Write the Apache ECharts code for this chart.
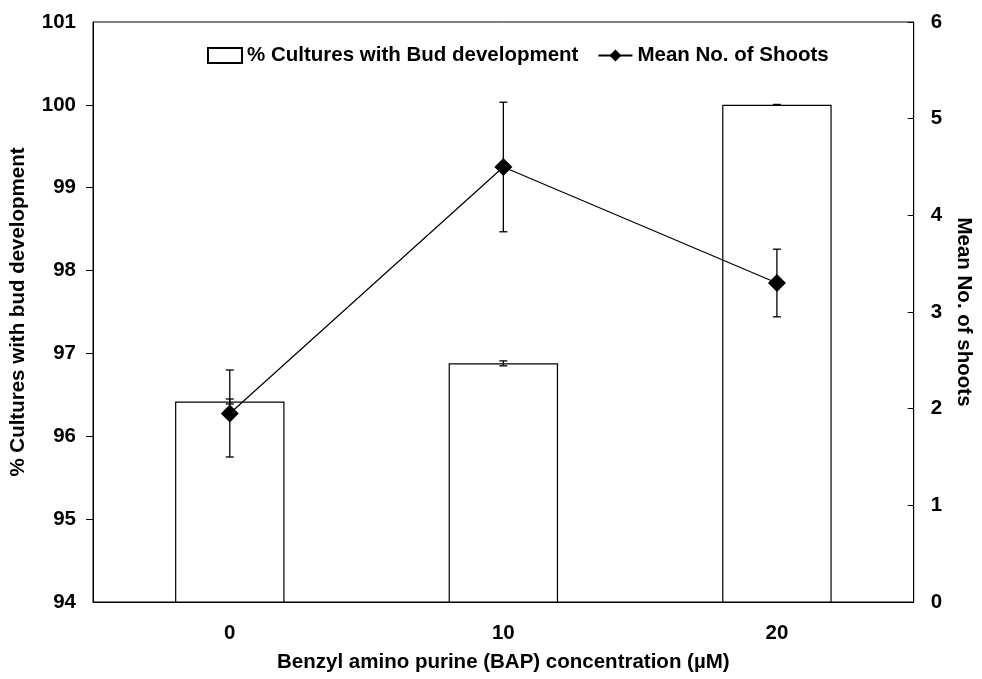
<!DOCTYPE html>
<html>
<head>
<meta charset="utf-8">
<script src="https://cdn.jsdelivr.net/npm/echarts@6/dist/echarts.min.js"></script>
<style>
  html, body { margin: 0; padding: 0; background: #fff; }
  #chart { width: 982px; height: 679px; }
</style>
</head>
<body>
<div id="chart"></div>
<script>
// BAP concentration (µM)
var categories = ['0', '10', '20'];
// % cultures with bud development (left axis)
var budPct = [96.42, 96.88, 100];
var budErr = [0.03, 0.03, 0.005];
// mean no. of shoots (right axis)
var shoots = [1.95, 4.5, 3.3];
var shootsErr = [0.45, 0.67, 0.35];
// left axis ticks (none drawn at the ends)
var leftTicks = [95, 96, 97, 98, 99, 100];

var FONT = '"Liberation Sans", Arial, sans-serif';
var FS = 20.5;

function errData(vals, errs) {
  return vals.map(function (v, i) { return [i, v - errs[i], v + errs[i]]; });
}

// 误差线
function renderErr(params, api) {
  var lo = api.coord([api.value(0), api.value(1)]);
  var hi = api.coord([api.value(0), api.value(2)]);
  var w = 4;
  var style = { stroke: '#000', lineWidth: 1.3 };
  return {
    type: 'group',
    children: [
      { type: 'line', shape: { x1: lo[0], y1: lo[1], x2: hi[0], y2: hi[1] }, style: style },
      { type: 'line', shape: { x1: lo[0] - w, y1: lo[1], x2: lo[0] + w, y2: lo[1] }, style: style },
      { type: 'line', shape: { x1: hi[0] - w, y1: hi[1], x2: hi[0] + w, y2: hi[1] }, style: style }
    ]
  };
}

var labelText = { fontFamily: FONT, fontWeight: 'bold', fontSize: FS, color: '#000' };

var myChart = echarts.init(document.getElementById('chart'));
myChart.setOption({
  animation: false,
  textStyle: { fontFamily: FONT },
  grid: {
    left: 92, right: 56, top: 22, bottom: 77,
    show: true, borderColor: '#000', borderWidth: 1
  },
  legend: {
    top: 40,
    left: 202,
    itemGap: 19,
    itemWidth: 34,
    itemHeight: 15,
    textStyle: labelText,
    data: [
      { name: '% Cultures with Bud development', icon: 'rect' },
      { name: 'Mean No. of Shoots' }
    ]
  },
  xAxis: {
    type: 'category',
    data: categories,
    name: 'Benzyl amino purine (BAP) concentration (µM)',
    nameLocation: 'middle',
    nameGap: 50,
    nameTextStyle: labelText,
    axisLine: { lineStyle: { color: '#000', width: 1 } },
    axisTick: { inside: true, length: 6, lineStyle: { color: '#000' } },
    axisLabel: Object.assign({ margin: 21 }, labelText)
  },
  yAxis: [
    {
      type: 'value',
      min: 94, max: 101, interval: 1,
      name: '% Cultures with bud development',
      nameLocation: 'middle',
      nameRotate: 90,
      nameGap: 64,
      nameTextStyle: labelText,
      splitLine: { show: false },
      axisLine: { show: true, lineStyle: { color: '#000' } },
      axisTick: { show: true, length: 7, customValues: leftTicks, lineStyle: { color: '#000' } },
      axisLabel: Object.assign({ margin: 17 }, labelText)
    },
    {
      type: 'value',
      min: 0, max: 6, interval: 1,
      name: 'Mean No. of shoots',
      nameLocation: 'middle',
      nameRotate: -90,
      nameGap: 38,
      nameTextStyle: labelText,
      splitLine: { show: false },
      axisLine: { show: true, lineStyle: { color: '#000' } },
      axisTick: { show: true, inside: true, length: 6, lineStyle: { color: '#000' } },
      axisLabel: Object.assign({ margin: 17 }, labelText)
    }
  ],
  series: [
    {
      name: '% Cultures with Bud development',
      type: 'bar',
      yAxisIndex: 0,
      barWidth: '40%',
      data: budPct,
      itemStyle: { color: '#fff', borderColor: '#000', borderWidth: 1.2 }
    },
    {
      type: 'custom',
      yAxisIndex: 0,
      renderItem: renderErr,
      data: errData(budPct, budErr),
      z: 3
    },
    {
      type: 'custom',
      yAxisIndex: 1,
      renderItem: renderErr,
      data: errData(shoots, shootsErr),
      z: 4
    },
    {
      name: 'Mean No. of Shoots',
      type: 'line',
      yAxisIndex: 1,
      data: shoots,
      symbol: 'diamond',
      symbolSize: 18,
      itemStyle: { color: '#000' },
      lineStyle: { color: '#000', width: 1.2 },
      z: 5
    }
  ]
});
</script>
</body>
</html>
